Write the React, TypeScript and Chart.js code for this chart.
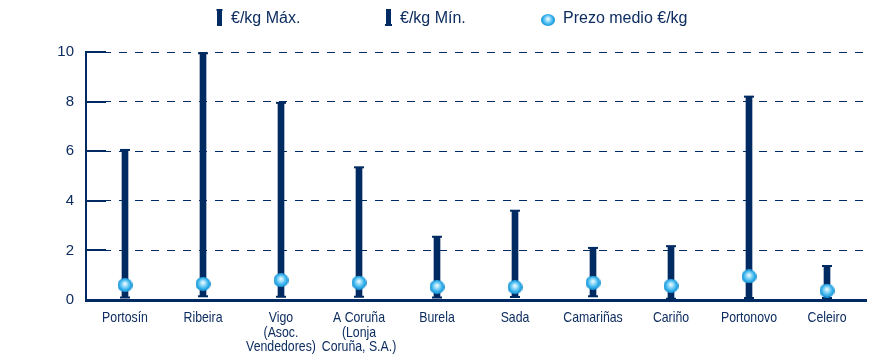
import React, { useEffect, useRef } from 'react';
import { Chart, registerables } from 'chart.js';

Chart.register(...registerables);

const categories: string[][] = [
  ['Portosín'],
  ['Ribeira'],
  ['Vigo', '(Asoc.', 'Vendedores)'],
  ['A Coruña', '(Lonja', 'Coruña, S.A.)'],
  ['Burela'],
  ['Sada'],
  ['Camariñas'],
  ['Cariño'],
  ['Portonovo'],
  ['Celeiro'],
];
const maxValues = [6.05, 9.95, 7.95, 5.35, 2.55, 3.6, 2.1, 2.17, 8.2, 1.37];
const minValues = [0.1, 0.15, 0.13, 0.13, 0.1, 0.12, 0.15, 0.05, 0.08, 0.08];
const meanValues = [0.6, 0.65, 0.8, 0.7, 0.53, 0.52, 0.7, 0.57, 0.95, 0.38];
const yTickValues = [0, 2, 4, 6, 8, 10];
const legendLabels = ['€/kg Máx.', '€/kg Mín.', 'Prezo medio €/kg'];

const NAVY = '#002A62';
const TEXT = '#0E2D60';
const SANS = '"Liberation Sans", Arial, sans-serif';

function makeSphere(w: number, h: number): HTMLCanvasElement {
  const c = document.createElement('canvas');
  c.width = w;
  c.height = h;
  const ctx = c.getContext('2d')!;
  const g = ctx.createRadialGradient(w * 0.5, h * 0.4, 0.3, w * 0.5, h * 0.5, w * 0.55);
  g.addColorStop(0, '#f4fcff');
  g.addColorStop(0.3, '#92daf9');
  g.addColorStop(0.65, '#2eaeea');
  g.addColorStop(1, '#0a7fc6');
  ctx.fillStyle = g;
  ctx.beginPath();
  ctx.ellipse(w / 2, h / 2, w / 2, h / 2, 0, 0, Math.PI * 2);
  ctx.fill();
  return c;
}

const innerTicksPlugin = {
  id: 'innerTicks',
  beforeDatasetsDraw(chart: any) {
    const { ctx, chartArea, scales } = chart;
    const y = scales.y;
    ctx.save();
    ctx.strokeStyle = NAVY;
    ctx.lineWidth = 2;
    yTickValues.forEach((v) => {
      if (v === 0) return;
      const py = Math.round(y.getPixelForValue(v));
      ctx.beginPath();
      ctx.moveTo(chartArea.left, py);
      ctx.lineTo(chartArea.left + 20, py);
      ctx.stroke();
    });
    ctx.restore();
  },
};

// Condensed category labels (the reference uses a narrow face)
const xLabelsPlugin = {
  id: 'xLabels',
  afterDraw(chart: any) {
    const { ctx, scales, chartArea } = chart;
    const xs = scales.x;
    ctx.save();
    ctx.font = '15px ' + SANS;
    ctx.fillStyle = TEXT;
    ctx.textAlign = 'center';
    ctx.textBaseline = 'alphabetic';
    categories.forEach((lines, i) => {
      const px = xs.getPixelForValue(i);
      lines.forEach((line, k) => {
        ctx.save();
        ctx.translate(px, chartArea.bottom + 22 + k * 14.5);
        ctx.scale(0.82, 1);
        ctx.fillText(line, 0, 0);
        ctx.restore();
      });
    });
    ctx.restore();
  },
};

const legendPlugin = {
  id: 'customLegend',
  afterDraw(chart: any) {
    const { ctx } = chart;
    const sphere = makeSphere(14, 12);
    ctx.save();
    ctx.font = '16px ' + SANS;
    ctx.textBaseline = 'middle';
    ctx.textAlign = 'left';
    const cy = 18.5;
    let x = 217;
    ctx.fillStyle = NAVY;
    ctx.fillRect(x, 9, 5, 17);
    ctx.fillRect(x - 0.5, 9, 6, 2);
    ctx.fillStyle = TEXT;
    ctx.fillText(legendLabels[0], x + 14, cy);
    x = 386;
    ctx.fillStyle = NAVY;
    ctx.fillRect(x, 9, 5, 17);
    ctx.fillRect(x - 1, 24, 7, 2);
    ctx.fillStyle = TEXT;
    ctx.fillText(legendLabels[1], x + 14, cy);
    x = 541;
    ctx.drawImage(sphere, x, 14);
    ctx.fillText(legendLabels[2], x + 22, cy);
    ctx.restore();
  },
};

export default function App() {
  const ref = useRef<HTMLCanvasElement | null>(null);

  useEffect(() => {
    document.body.style.margin = '0';
    const canvas = ref.current!;
    const sphere = makeSphere(15, 14);
    const chart = new Chart(canvas, {
      type: 'bar',
      data: {
        labels: categories as any,
        datasets: [
          {
            type: 'line' as const,
            label: legendLabels[2],
            data: meanValues,
            showLine: false,
            pointStyle: sphere as any,
            pointRadius: 7,
            order: 0,
          } as any,
          {
            type: 'line' as const,
            label: legendLabels[0] + ' cap',
            data: maxValues,
            showLine: false,
            pointStyle: 'line',
            pointRadius: 5,
            pointBorderWidth: 2,
            pointBorderColor: NAVY,
            borderColor: NAVY,
            order: 1,
          } as any,
          {
            type: 'line' as const,
            label: legendLabels[1],
            data: minValues,
            showLine: false,
            pointStyle: 'line',
            pointRadius: 5,
            pointBorderWidth: 2,
            pointBorderColor: NAVY,
            borderColor: NAVY,
            order: 1,
          } as any,
          {
            type: 'bar' as const,
            label: legendLabels[0],
            data: minValues.map((m, i) => [m, maxValues[i]]) as any,
            backgroundColor: NAVY,
            barThickness: 6,
            borderSkipped: false,
            order: 2,
          },
        ],
      },
      options: {
        animation: false,
        responsive: true,
        maintainAspectRatio: false,
        layout: { padding: { top: 52, right: 19, left: 0, bottom: 0 } },
        plugins: {
          legend: { display: false },
          tooltip: { enabled: false },
        },
        scales: {
          x: {
            grid: { display: false, drawTicks: false },
            border: { display: true, color: NAVY, width: 3 },
            ticks: { display: false },
            afterFit: (s: any) => {
              s.height = 55;
            },
          },
          y: {
            min: 0,
            max: 10,
            afterBuildTicks: (s: any) => {
              s.ticks = yTickValues.map((v) => ({ value: v }));
            },
            grid: { color: NAVY, lineWidth: 1, drawTicks: false },
            border: { display: true, color: NAVY, width: 2, dash: [8, 8] },
            ticks: {
              color: TEXT,
              font: { family: SANS, size: 15 },
              padding: 12,
            },
            afterFit: (s: any) => {
              s.width = 86;
            },
          },
        },
      },
      plugins: [innerTicksPlugin, xLabelsPlugin, legendPlugin],
    });
    return () => chart.destroy();
  }, []);

  return (
    <div style={{ position: 'relative', width: '885px', height: '355px' }}>
      <canvas ref={ref} />
    </div>
  );
}
